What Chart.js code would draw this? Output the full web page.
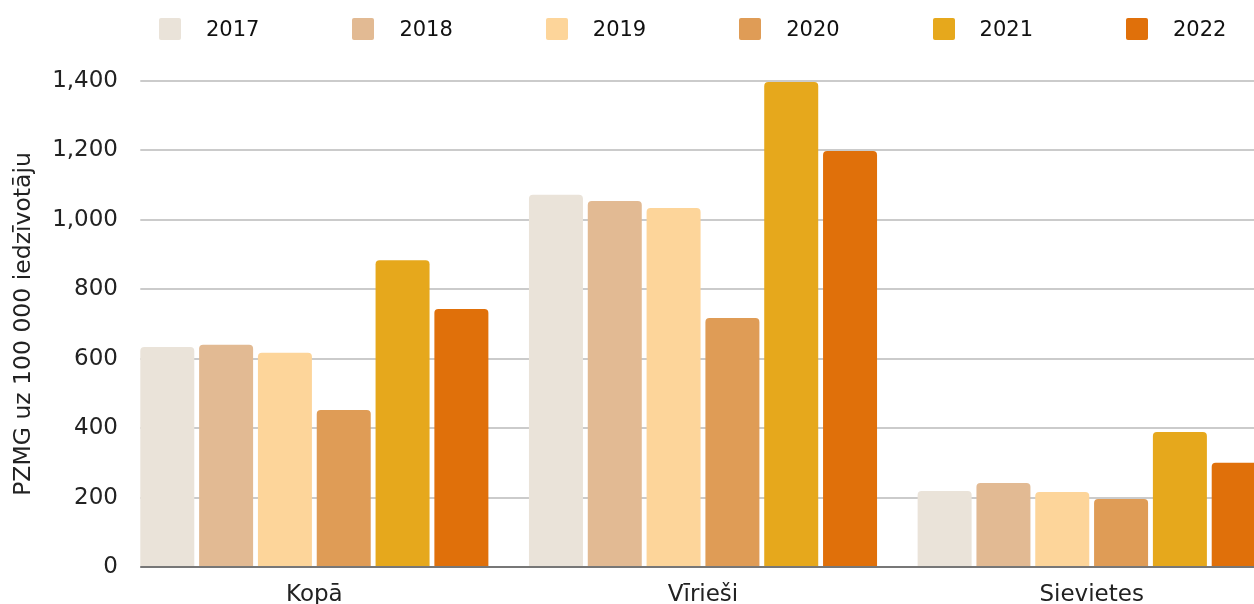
<!DOCTYPE html>
<html>
<head>
<meta charset="utf-8">
<script src="https://cdn.jsdelivr.net/npm/chart.js@4.4.0/dist/chart.umd.min.js"></script>
<style>
  html, body { margin: 0; padding: 0; background: #fff; overflow: hidden; width: 1254px; height: 604px; }
  #wrap { position: absolute; left: 0; top: 0; width: 1300px; height: 604px; }
  #legend { position: absolute; left: 159px; top: 18px; display: flex; font-family: "DejaVu Sans"; font-size: 21px; color: #111; }
  .item { width: 193.4px; display: flex; align-items: center; height: 22px; }
  .box { width: 22px; height: 22px; border-radius: 2px; margin-right: 25px; }
</style>
</head>
<body>
<div id="wrap"><canvas id="chart" width="1300" height="604"></canvas></div>
<div id="legend"></div>
<script>
const categories = ["Kopā", "Vīrieši", "Sievietes"];
const years = ["2017", "2018", "2019", "2020", "2021", "2022"];
const v2017 = [634, 1072, 219];
const v2018 = [640, 1054, 242];
const v2019 = [617, 1034, 216];
const v2020 = [452, 717, 196];
const v2021 = [884, 1397, 389];
const v2022 = [743, 1198, 300];
const series = [v2017, v2018, v2019, v2020, v2021, v2022];
const barColors = ["#eae3d9", "#e2ba93", "#fdd59a", "#df9c56", "#e6a81c", "#e0700a"];

// legend as html
const legend = document.getElementById("legend");
years.forEach((y, i) => {
  const item = document.createElement("div");
  item.className = "item";
  item.innerHTML = `<span class="box" style="background:${barColors[i]}"></span><span>${y}</span>`;
  legend.appendChild(item);
});

// grid starts at the first bar, not at the axis
const gridStart = {
  id: "gridStart",
  beforeDraw(chart) {
    const bar = chart.getDatasetMeta(0).data[0];
    const x0 = bar.x - bar.width / 2;
    const left = chart.chartArea.left;
    const ctx = chart.ctx;
    ctx.save();
    ctx.beginPath();
    ctx.rect(0, 0, left - 6, chart.height);
    ctx.rect(x0, 0, chart.width - x0, chart.height);
    ctx.clip();
  },
  beforeDatasetsDraw(chart) {
    chart.ctx.restore();
  },
};

const font = { family: "DejaVu Sans", size: 23 };

new Chart("chart", {
  type: "bar",
  data: {
    labels: categories,
    datasets: years.map((y, i) => ({
      label: y,
      data: series[i],
      backgroundColor: barColors[i],
      borderRadius: 4,
      categoryPercentage: 0.908,
      barPercentage: 0.918,
    })),
  },
  options: {
    responsive: false,
    animation: false,
    layout: { padding: { top: 81, right: 14, left: 0, bottom: 0 } },
    plugins: {
      legend: { display: false },
      tooltip: { enabled: false },
    },
    scales: {
      x: {
        grid: { display: false, drawTicks: false },
        border: { color: "#777", width: 2 },
        ticks: { font: font, color: "#222", padding: 14, z: 1 },
        afterFit: (s) => { s.height = 37; },
      },
      y: {
        min: 0,
        max: 1400,
        ticks: { stepSize: 200, font: font, color: "#222", padding: 2, z: 1 },
        grid: { color: "#cbcbcb", lineWidth: 2, drawTicks: false },
        border: { display: false },
        title: {
          display: true,
          text: "PZMG uz 100 000 iedzīvotāju",
          font: { family: "DejaVu Sans", size: 23.5 },
          color: "#222",
          padding: { top: 10, bottom: 0 },
        },
        afterFit: (s) => { s.width = 120; },
      },
    },
  },
  plugins: [gridStart],
});
</script>
</body>
</html>
